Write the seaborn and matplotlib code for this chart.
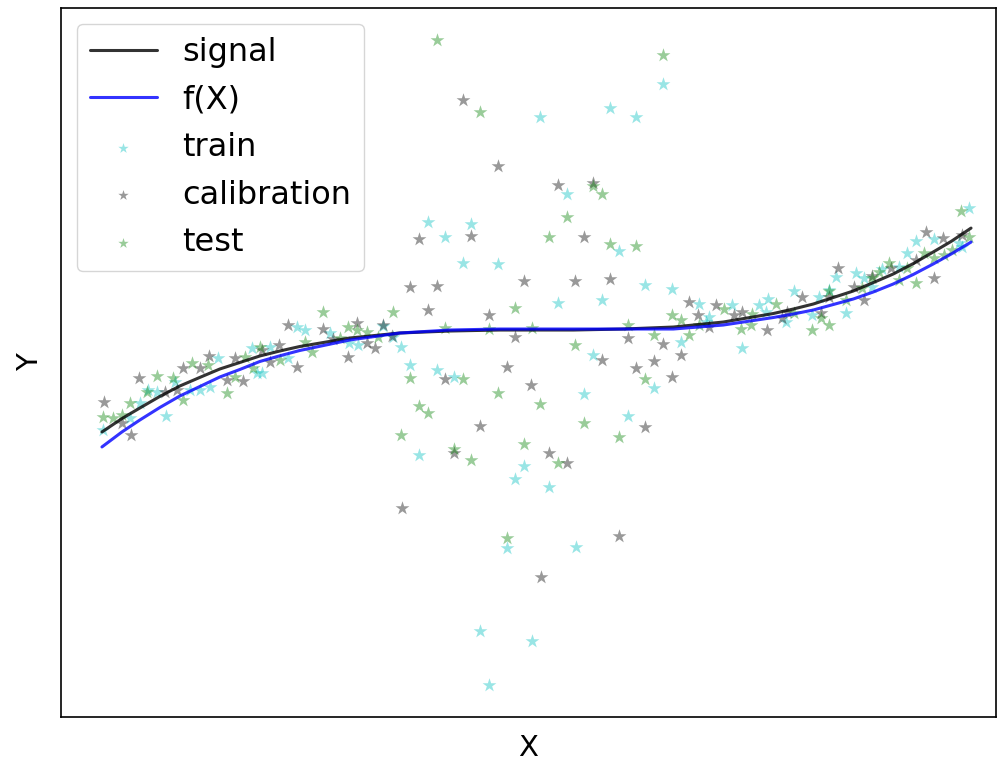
import matplotlib
matplotlib.use("Agg")
import matplotlib.pyplot as plt
import seaborn as sns
import pandas as pd

# ---- curves ----
curve_x = [-4.35, -4.15, -3.97, -3.77, -3.57, -3.37, -3.17, -2.97, -2.77, -2.57, -2.37,
           -1.87, -1.37, -0.87, -0.37, 0.0, 0.37, 0.87, 1.37, 1.87, 2.37, 2.57, 2.77,
           2.97, 3.17, 3.37, 3.57, 3.77, 3.97, 4.15, 4.35]
signal_y = [-1.02, -0.886, -0.78, -0.664, -0.56, -0.474, -0.39, -0.325, -0.26, -0.21, -0.165,
            -0.08, -0.03, -0.01, 0.0, 0.0, 0.0, 0.01, 0.03, 0.08, 0.165, 0.21, 0.26,
            0.325, 0.39, 0.474, 0.56, 0.664, 0.78, 0.886, 1.02]
fx_y = [-1.17, -1.02, -0.90, -0.775, -0.66, -0.565, -0.47, -0.395, -0.315, -0.258, -0.205,
        -0.10, -0.03, 0.0, 0.01, 0.01, 0.01, 0.01, 0.01, 0.05, 0.125, 0.16, 0.20,
        0.255, 0.31, 0.38, 0.46, 0.555, 0.66, 0.76, 0.88]

# ---- train points ----
train_x = [0.04, -0.74, -0.39, -1.09, -0.92, -0.66, 0.74, 1.00, 1.27, 0.31, 0.83, -1.36, -1.27,
           -1.00, -0.83, -1.18, -0.13, -0.22, 0.22, 0.66, 1.09, 1.36, 1.45, 0.57, 1.18, 0.48,
           0.92, 0.13, -0.30, 0.40, -0.57, -0.04, -0.48,
           -4.34, -4.07, -3.97, -3.89, -3.80, -3.71, -3.62, -3.47, -3.37, -3.27, -3.19, -2.85,
           -2.80, -2.67, -2.49, -2.75, -2.40, -2.32, -2.07, -1.88, -1.79, -1.54, -1.44,
           3.00, 2.58, 2.83, 1.63, 1.96, 2.23, 2.32, 1.73, 2.30, 2.76, 2.50, 1.70, 2.06,
           3.80, 3.98, 4.23, 4.33, 3.71, 4.26, 3.63, 3.46, 3.20, 3.28, 3.36, 2.93, 3.10]
train_y = [2.13, 0.67, 0.66, 1.08, 0.93, 1.06, 2.22, 2.13, 2.46, 1.36, 0.79, -0.17, -0.35,
           -0.40, -0.47, -1.25, -1.36, -1.49, 0.27, 0.30, 0.45, 0.41, -0.12, -0.25, -0.58, -0.64,
           -0.86, -1.57, -2.18, -2.17, -3.01, -3.11, -3.55,
           -1.00, -0.88, -0.73, -0.60, -0.62, -0.86, -0.52, -0.60, -0.60, -0.57, -0.28, -0.18,
           -0.43, -0.17, -0.28, -0.43, 0.03, 0.00, -0.03, -0.13, -0.15, 0.04, -0.07,
           0.53, 0.39, 0.33, 0.26, 0.25, 0.25, 0.31, 0.13, 0.18, 0.15, 0.08, 0.08, -0.18,
           0.89, 0.91, 0.87, 1.22, 0.77, 0.83, 0.63, 0.61, 0.57, 0.52, 0.43, 0.40, 0.17]

# ---- calibration points ----
calib_x = [-0.74, -0.39, -1.18, -0.66, 0.22, 0.57, 0.48, -1.27, -1.00, -0.13, -1.09, -0.48,
           -0.22, -0.92, -0.30, -0.05, -0.57, -0.83, 0.39, 0.74, 1.53, 0.92, 1.27, 1.45, 0.66,
           1.18, 1.00, 1.36, 1.09, 0.13, 0.31, -1.35, 0.83, 0.05,
           -4.33, -4.15, -4.06, -3.98, -3.72, -3.60, -3.54, -3.37, -3.28, -3.10, -2.94, -3.02,
           -2.49, -2.14, -1.80, -1.54, -2.04, -1.70, -1.62, -2.58, -2.75, -2.67, -1.89, -2.40,
           -1.45,
           2.66, 1.80, 1.62, 1.98, 2.06, 2.51, 2.85, 2.46, 1.73, 2.31, 3.90, 4.07, 4.26, 3.80,
           3.55, 3.98, 3.02, 3.36, 3.18, 2.93, 3.28]
calib_y = [2.30, 1.64, 0.91, 0.94, 1.45, 1.47, 0.93, 0.43, 0.44, 0.49, 0.20, 0.15,
           -0.07, -0.49, -0.37, -0.55, -0.96, -1.23, 0.49, 0.51, 0.28, -0.08, -0.14, -0.25, -0.30,
           -0.31, -0.38, -0.47, -0.97, -1.23, -1.33, -1.78, -2.06, -2.47,
           -0.72, -0.93, -1.05, -0.48, -0.62, -0.60, -0.38, -0.38, -0.26, -0.50, -0.51, -0.28,
           0.05, 0.01, 0.07, 0.05, -0.09, -0.13, -0.18, -0.15, -0.20, -0.32, -0.27, -0.37,
           -0.06,
           0.33, 0.25, 0.15, 0.15, 0.18, 0.18, 0.17, 0.12, 0.03, 0.00, 0.98, 0.92, 0.95, 0.70,
           0.62, 0.52, 0.62, 0.54, 0.43, 0.33, 0.30]

# ---- test points ----
test_x = [-1.00, -0.57, 1.27, 0.57, 0.66, 0.31, 0.13, 0.74, 1.00, -0.22, -1.44, -0.92, -0.48,
          -0.04, -1.27, -0.74, -0.39, 0.04, -1.18, -1.09, -1.36, -0.83, -0.66, -0.13, -0.30,
          1.36, 1.45, 0.92, 1.18, 1.53, 0.39, 1.09, 0.48, 0.83, 0.22,
          -4.34, -4.24, -4.15, -4.07, -3.80, -3.90, -3.64, -3.54, -3.45, -3.29, -3.10, -3.02,
          -2.92, -2.84, -2.14, -1.89, -1.80, -1.70, -1.97, -2.32, -1.59, -2.77, -2.25, -2.57,
          2.93, 1.88, 2.16, 2.58, 2.85, 1.63, 2.15, 2.05, 2.76, 2.93, 2.40, 4.25, 4.33, 3.88,
          3.98, 4.16, 4.08, 3.53, 3.43, 3.71, 3.63, 3.80, 3.10, 3.26, 3.36]
test_y = [2.90, 2.18, 2.75, 1.44, 1.36, 1.13, 0.93, 0.86, 0.84, 0.22, 0.18, 0.02, 0.01,
          0.02, -0.48, -0.49, -0.63, -0.74, -0.76, -0.83, -1.05, -1.19, -1.30, -1.14, -2.08,
          0.15, 0.10, 0.05, -0.05, -0.05, -0.15, -0.49, -0.93, -1.07, -1.33,
          -0.87, -0.88, -0.85, -0.73, -0.46, -0.62, -0.48, -0.70, -0.33, -0.35, -0.63, -0.47,
          -0.27, -0.38, 0.18, 0.03, 0.00, -0.02, -0.08, -0.12, -0.07, -0.17, -0.22, -0.30,
          0.39, 0.21, 0.16, 0.17, 0.12, 0.05, 0.05, 0.01, 0.00, 0.05, 0.26, 1.19, 0.93, 0.77,
          0.72, 0.80, 0.75, 0.67, 0.58, 0.62, 0.50, 0.47, 0.30, 0.42, 0.52]

curves = pd.DataFrame({"x": curve_x, "signal": signal_y, "fx": fx_y})
train = pd.DataFrame({"x": train_x, "y": train_y})
calib = pd.DataFrame({"x": calib_x, "y": calib_y})
test = pd.DataFrame({"x": test_x, "y": test_y})

sns.set_style("white")
plt.rcParams["font.family"] = ["DejaVu Sans"]
plt.rcParams["text.color"] = "black"
plt.rcParams["axes.labelcolor"] = "black"

fig = plt.figure(figsize=(9.97, 7.63), dpi=100)
ax = fig.add_axes([61 / 997, 46 / 763, 935 / 997, 709 / 763])

sns.lineplot(data=curves, x="x", y="signal", color="k", alpha=0.8, lw=2.2,
             label="signal", ax=ax, sort=False, estimator=None)
sns.lineplot(data=curves, x="x", y="fx", color="b", alpha=0.8, lw=2.2,
             label="f(X)", ax=ax, sort=False, estimator=None)
sns.scatterplot(data=train, x="x", y="y", color="c", marker="*", s=110, alpha=0.4,
                linewidth=0, label="train", ax=ax)
sns.scatterplot(data=calib, x="x", y="y", color="k", marker="*", s=110, alpha=0.4,
                linewidth=0, label="calibration", ax=ax)
sns.scatterplot(data=test, x="x", y="y", color="g", marker="*", s=110, alpha=0.4,
                linewidth=0, label="test", ax=ax)

ax.set_xlim(-4.76, 4.60)
ax.set_xticks([])
ax.set_yticks([])
ax.set_xlabel("X", fontsize=21, labelpad=12)
ax.set_ylabel("Y", fontsize=21, labelpad=12)
for sp in ax.spines.values():
    sp.set_visible(True)
    sp.set_color("black")
    sp.set_linewidth(1.2)

ax.legend(loc="upper left", fontsize=23, markerscale=0.75, handlelength=2.1,
          labelspacing=0.52)

fig.savefig("out.png", dpi=100)
